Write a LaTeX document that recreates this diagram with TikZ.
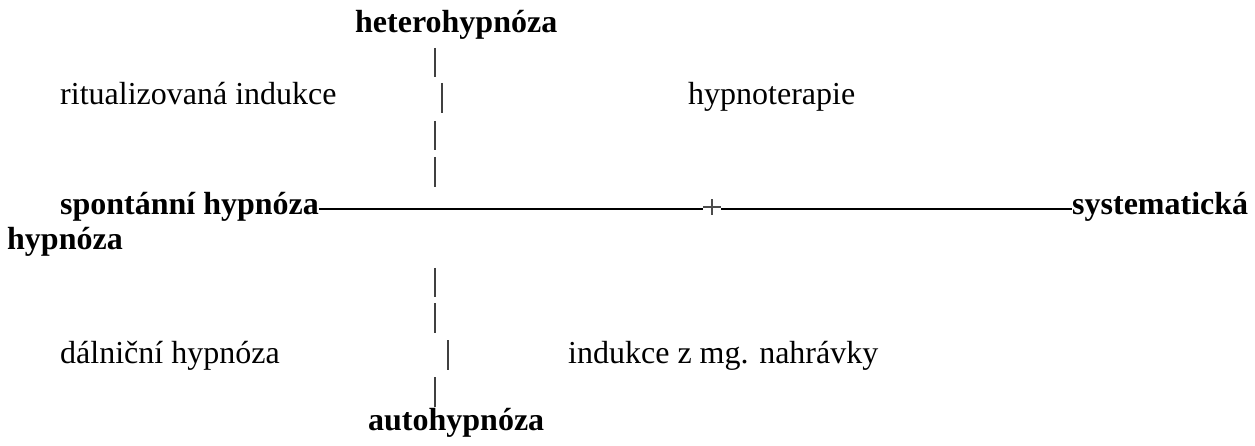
\documentclass[tikz,border=0pt]{standalone}
\usepackage{fontspec}
\setmainfont{Liberation Serif}
\begin{document}
\begin{tikzpicture}[x=1pt,y=-1pt,
  lbl/.style={anchor=base west,inner sep=0pt,font=\fontsize{32}{36}\selectfont},
  blbl/.style={anchor=base west,inner sep=0pt,font=\fontsize{32}{36}\selectfont\bfseries},
  bar/.style={line width=1.1pt,draw=black!75},
  axis/.style={line width=1.3pt,draw=black},
  plusmark/.style={line width=1.3pt,draw=black!70}]
\useasboundingbox (0,0) rectangle (1255,446);
% texts
\node[blbl] (hetero) at (355,33) {heterohypnóza};
\node[lbl] (ritual) at (60,105) {ritualizovaná indukce};
\node[lbl] (hypnoter) at (688,105) {hypnoterapie};
\node[blbl] (spont) at (60,215) {spontánní hypnóza};
\node[blbl] (syst) at (1072,215) {systematická};
\node[blbl] (syst2) at (7,250) {hypnóza};
\node[lbl] (dalnic) at (60,363) {dálniční hypnóza};
\node[lbl] (indukce) at (568,363) {indukce z mg. nahrávky};
\node[blbl] (auto) at (368,430) {autohypnóza};
% centre mark and axis
\coordinate (plus) at (712,207);
\draw[axis] (spont.east |- 0,209) -- ([xshift=-9pt]plus |- 0,209);
\draw[axis] ([xshift=9pt]plus |- 0,209) -- (syst.west |- 0,209);
\draw[plusmark] ([xshift=-9pt]plus) -- ([xshift=9pt]plus);
\draw[plusmark] ([yshift=-8pt]plus) -- ([yshift=8pt]plus);
% vertical bars (upper)
\draw[bar] (435,48) -- (435,77);
\draw[bar] (442,83) -- (442,113);
\draw[bar] (435,121) -- (435,150);
\draw[bar] (435,157) -- (435,187);
% vertical bars (lower)
\draw[bar] (435,268) -- (435,297);
\draw[bar] (435,303) -- (435,333);
\draw[bar] (448,340) -- (448,370);
\draw[bar] (435,377) -- (435,407);
\end{tikzpicture}
\end{document}
